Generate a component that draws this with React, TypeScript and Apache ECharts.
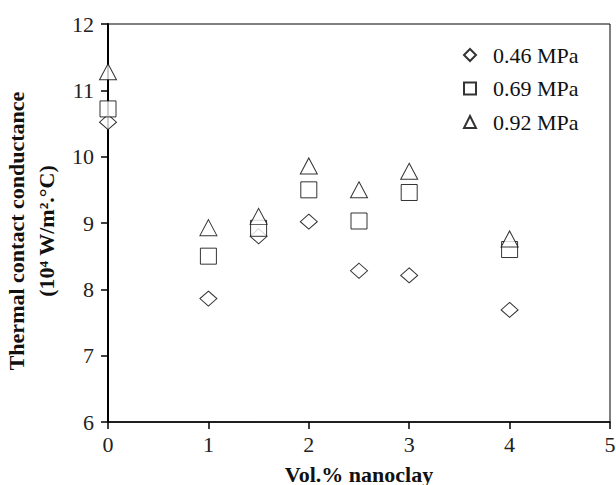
import React, { useEffect, useRef } from "react";
import * as echarts from "echarts";

const xTicks = [0, 1, 2, 3, 4, 5];
const yTicks = [6, 7, 8, 9, 10, 11, 12];
const seriesNames = ["0.46 MPa", "0.69 MPa", "0.92 MPa"];
const nanoclay = [0, 1, 1.5, 2, 2.5, 3, 4];
const p046 = [10.52, 7.86, 8.8, 9.02, 8.28, 8.21, 7.69];
const p069 = [10.72, 8.5, 8.92, 9.5, 9.03, 9.46, 8.6];
const p092 = [11.28, 8.93, 9.1, 9.86, 9.5, 9.78, 8.76];

const FONT = "Liberation Serif, Times New Roman, serif";

export default function App() {
  const ref = useRef<HTMLDivElement>(null);
  useEffect(() => {
    if (!ref.current) return;
    const chart = echarts.init(ref.current, null, { renderer: "svg" });
    const mk = (arr: number[]) => nanoclay.map((x, i) => [x, arr[i]]);
    const itemStyle = { color: "#fff", borderColor: "#000", borderWidth: 1 };
    chart.setOption({
      animation: false,
      backgroundColor: "#fff",
      textStyle: { fontFamily: FONT },
      grid: {
        left: 108,
        right: 6,
        top: 24,
        bottom: 63,
        show: true,
        borderColor: "#000",
        borderWidth: 1,
        containLabel: false,
        outerBoundsMode: "none",
      },
      legend: {
        orient: "vertical",
        left: 458,
        top: 38,
        itemWidth: 12,
        itemHeight: 12,
        itemGap: 9.5,
        data: seriesNames,
        textStyle: { fontFamily: FONT, fontSize: 22, color: "#111", lineHeight: 24, padding: [0, 0, 0, 12] },
      },
      xAxis: {
        type: "value",
        min: xTicks[0],
        max: xTicks[xTicks.length - 1],
        interval: 1,
        name: "Vol.% nanoclay",
        nameLocation: "middle",
        nameGap: 41,
        nameTextStyle: { fontFamily: FONT, fontSize: 22, fontWeight: "bold", color: "#111" },
        axisLine: { onZero: false, lineStyle: { color: "#000", width: 1.5 } },
        axisTick: { show: true, inside: false, length: 7, lineStyle: { color: "#000", width: 1.5 } },
        axisLabel: { fontFamily: FONT, fontSize: 22, color: "#222", margin: 11 },
        splitLine: { show: false },
      },
      yAxis: {
        type: "value",
        min: yTicks[0],
        max: yTicks[yTicks.length - 1],
        interval: 1,
        name: "Thermal contact conductance\n(10⁴ W/m².°C)",
        nameLocation: "middle",
        nameRotate: 90,
        nameGap: 39,
        nameTextStyle: {
          fontFamily: FONT,
          fontSize: 22,
          fontWeight: "bold",
          color: "#111",
          lineHeight: 30,
          align: "center",
          padding: [0, 16, 0, 0],
        },
        axisLine: { onZero: false, lineStyle: { color: "#000", width: 2 } },
        axisTick: { show: true, inside: false, length: 7, lineStyle: { color: "#000", width: 1.5 } },
        axisLabel: { fontFamily: FONT, fontSize: 22, color: "#222", margin: 14 },
        splitLine: { show: false },
      },
      series: [
        { name: seriesNames[0], type: "scatter", symbol: "diamond", symbolSize: [17, 15], itemStyle, data: mk(p046) },
        { name: seriesNames[1], type: "scatter", symbol: "rect", symbolSize: 16, itemStyle, data: mk(p069) },
        { name: seriesNames[2], type: "scatter", symbol: "triangle", symbolSize: [17, 16], itemStyle, data: mk(p092) },
      ],
    });
    return () => chart.dispose();
  }, []);
  return <div ref={ref} style={{ position: "fixed", left: 0, top: 0, width: 616, height: 485 }} />;
}
